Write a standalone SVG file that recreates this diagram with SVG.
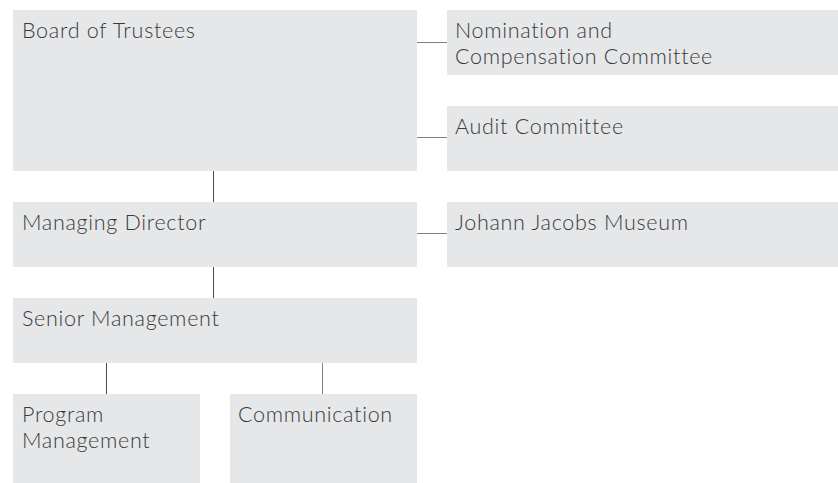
<svg xmlns="http://www.w3.org/2000/svg" width="838" height="483" viewBox="0 0 838 483">
  <style>
    .box { fill: #e6e7e8; }
    .label { font-family: Lato, "Open Sans", "Liberation Sans", sans-serif; font-weight: 300; font-size: 21.5px; letter-spacing: 0.7px; fill: #3a3a3a; }
    .link { stroke: #4a4a4a; stroke-width: 1; fill: none; }
    .link-h { stroke: #808080; stroke-width: 1; fill: none; }
  </style>
  <rect width="838" height="483" fill="#ffffff"/>

  <!-- connectors -->
  <g id="connectors">
    <line class="link" x1="213.5" y1="171" x2="213.5" y2="202"/>
    <line class="link" x1="213.5" y1="267" x2="213.5" y2="298"/>
    <line class="link" x1="106.5" y1="363" x2="106.5" y2="394"/>
    <line class="link-h" x1="322.5" y1="363" x2="322.5" y2="394"/>
    <line class="link-h" x1="417" y1="42.5" x2="447" y2="42.5"/>
    <line class="link-h" x1="417" y1="137.5" x2="447" y2="137.5"/>
    <line class="link-h" x1="417" y1="233.5" x2="447" y2="233.5"/>
  </g>

  <g id="board">
    <rect class="box" x="13" y="10" width="404" height="161"/>
    <text class="label" x="22" y="38">Board of Trustees</text>
  </g>
  <g id="nomination">
    <rect class="box" x="447" y="10" width="391" height="65"/>
    <text class="label" x="455" y="38">Nomination and</text>
    <text class="label" x="455" y="64">Compensation Committee</text>
  </g>
  <g id="audit">
    <rect class="box" x="447" y="106" width="391" height="65"/>
    <text class="label" x="455" y="134">Audit Committee</text>
  </g>
  <g id="managing-director">
    <rect class="box" x="13" y="202" width="404" height="65"/>
    <text class="label" x="22" y="230">Managing Director</text>
  </g>
  <g id="museum">
    <rect class="box" x="447" y="202" width="391" height="65"/>
    <text class="label" x="455" y="230">Johann Jacobs Museum</text>
  </g>
  <g id="senior-management">
    <rect class="box" x="13" y="298" width="404" height="65"/>
    <text class="label" x="22" y="326">Senior Management</text>
  </g>
  <g id="program-management">
    <rect class="box" x="13" y="394" width="187" height="89"/>
    <text class="label" x="22" y="422">Program</text>
    <text class="label" x="22" y="448">Management</text>
  </g>
  <g id="communication">
    <rect class="box" x="230" y="394" width="187" height="89"/>
    <text class="label" x="238" y="422">Communication</text>
  </g>
</svg>
